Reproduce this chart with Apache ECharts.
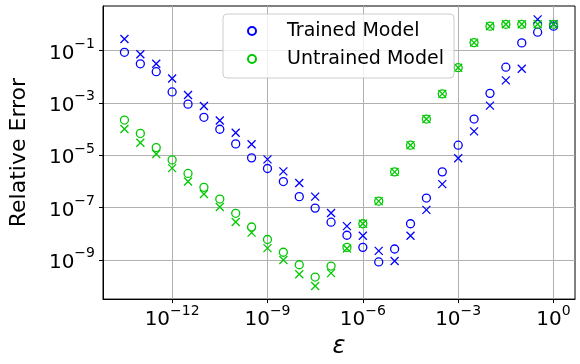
<!DOCTYPE html>
<html>
<head>
<meta charset="utf-8">
<script src="https://cdn.jsdelivr.net/npm/echarts@6/dist/echarts.min.js"></script>
<style>
html, body { margin: 0; padding: 0; background: #fff; }
#chart { width: 580px; height: 364px; }
</style>
</head>
<body>
<div id="chart"></div>
<script>
// epsilon values (half-decade steps)
const epsList = [3.16e-14, 1e-13, 3.16e-13, 1e-12, 3.16e-12, 1e-11, 3.16e-11, 1e-10, 3.16e-10, 1e-9,
  3.16e-9, 1e-8, 3.16e-8, 1e-7, 3.16e-7, 1e-6, 3.16e-6, 1e-5, 3.16e-5, 1e-4,
  3.16e-4, 1e-3, 3.16e-3, 1e-2, 3.16e-2, 1e-1, 3.16e-1, 1]

const trainedCircle = [8.5e-2, 3.1e-2, 1.55e-2, 2.6e-3, 8.9e-4, 2.8e-4, 9.8e-5, 2.7e-5, 7.9e-6, 3.1e-6,
  9.8e-7, 2.6e-7, 9.5e-8, 2.75e-8, 8.7e-9, 3.0e-9, 8.3e-10, 2.6e-9, 2.4e-8, 2.3e-7,
  2.3e-6, 2.4e-5, 2.4e-4, 2.3e-3, 2.3e-2, 1.95e-1, 5.0e-1, 8.5e-1]
const trainedCross = [2.75e-1, 7.2e-2, 3.1e-2, 8.5e-3, 2.0e-3, 7.6e-4, 2.1e-4, 7.2e-5, 2.6e-5, 6.9e-6,
  2.4e-6, 8.7e-7, 2.6e-7, 6.2e-8, 1.95e-8, 8.3e-9, 2.2e-9, 9.1e-10, 8.3e-9, 8.1e-8,
  7.8e-7, 7.6e-6, 8.1e-5, 7.8e-4, 7.2e-3, 2.0e-2, 1.55, 1.0]
const untrainedCircle = [2.2e-4, 6.8e-5, 1.95e-5, 6.6e-6, 2.0e-6, 5.9e-7, 2.1e-7, 6.0e-8, 1.8e-8, 6.0e-9,
  1.95e-9, 6.5e-10, 2.2e-10, 5.8e-10, 3.0e-9, 2.4e-8, 1.75e-7, 2.3e-6, 2.4e-5, 2.4e-4,
  2.2e-3, 2.2e-2, 2.0e-1, 8.5e-1, 1.0, 1.0, 1.0, 1.0]
const untrainedCross = [1.0e-4, 3.0e-5, 1.1e-5, 3.2e-6, 9.8e-7, 3.3e-7, 1.05e-7, 2.8e-8, 1.1e-8, 2.8e-9,
  9.8e-10, 2.8e-10, 1.0e-10, 3.1e-10, 2.7e-9, 2.4e-8, 1.75e-7, 2.3e-6, 2.4e-5, 2.4e-4,
  2.2e-3, 2.2e-2, 2.0e-1, 8.5e-1, 1.0, 1.0, 1.0, 1.0]

const xTicks = [1e-12, 1e-9, 1e-6, 1e-3, 1]
const yTicks = [1e-9, 1e-7, 1e-5, 1e-3, 1e-1]

const BLUE = '#0000ff'
const GREEN = '#00c800'
const CROSS = 'path://M0,0L10,10M10,0L0,10'
const FONT = 'DejaVu Sans'

const pairs = (ys) => epsList.map((x, i) => [x, ys[i]])

const powLabel = (v) => {
  const e = Math.round(Math.log10(v))
  return '{b|10}{s|' + String(e).replace('-', '\u2212') + '}'
}
const labelRich = {
  b: { fontSize: 20, fontFamily: FONT, color: '#000', verticalAlign: 'bottom', lineHeight: 26 },
  s: { fontSize: 14, fontFamily: FONT, color: '#000', verticalAlign: 'top', lineHeight: 26 },
}

const scatter = (name, ys, color, symbol) => ({
  name: name,
  type: 'scatter',
  data: pairs(ys),
  symbol: symbol,
  symbolSize: 8,
  itemStyle: { color: 'transparent', borderColor: color, borderWidth: 1.3, opacity: 1 },
  emphasis: { disabled: true },
})

const chart = echarts.init(document.getElementById('chart'))
chart.setOption({
  animation: false,
  grid: {
    left: 101, right: 5, top: 6, bottom: 61,
    show: true, borderColor: '#000', borderWidth: 1,
  },
  legend: {
    data: ['Trained Model', 'Untrained Model'],
    orient: 'vertical',
    left: 223, top: 14,
    padding: [6, 10, 8, 24],
    itemWidth: 8, itemHeight: 8, itemGap: 6,
    backgroundColor: 'rgba(255,255,255,0.8)',
    borderColor: '#cccccc', borderWidth: 1, borderRadius: 4,
    formatter: (name) => '{g|}' + name,
    textStyle: {
      fontSize: 19, fontFamily: FONT, color: '#000', lineHeight: 22,
      rich: { g: { width: 26 } },
    },
  },
  xAxis: {
    type: 'log', logBase: 10,
    min: Math.pow(10, -14.175), max: Math.pow(10, 0.675),
    name: 'ε', nameLocation: 'middle', nameGap: 34,
    nameTextStyle: { fontSize: 24, fontFamily: FONT, fontStyle: 'italic', color: '#000' },
    axisLine: { show: true, lineStyle: { color: '#000', width: 1 } },
    axisTick: { show: true, length: 4, lineStyle: { color: '#000' }, customValues: xTicks },
    axisLabel: { customValues: xTicks, margin: 5, formatter: powLabel, rich: labelRich },
    splitLine: { show: true, lineStyle: { color: '#b0b0b0', width: 1 } },
    minorTick: { show: false },
  },
  yAxis: {
    type: 'log', logBase: 10,
    min: Math.pow(10, -10.5), max: Math.pow(10, 0.7),
    name: 'Relative Error', nameLocation: 'middle', nameGap: 73,
    nameTextStyle: { fontSize: 22, fontFamily: FONT, color: '#000' },
    axisLine: { show: true, lineStyle: { color: '#000', width: 1 } },
    axisTick: { show: true, length: 4, lineStyle: { color: '#000' }, customValues: yTicks },
    axisLabel: { customValues: yTicks, margin: 8, formatter: powLabel, rich: labelRich },
    splitLine: { show: true, lineStyle: { color: '#b0b0b0', width: 1 } },
    minorTick: { show: false },
  },
  series: [
    scatter('Trained Model', trainedCircle, BLUE, 'circle'),
    scatter('Untrained Model', untrainedCircle, GREEN, 'circle'),
    scatter('Trained Model', trainedCross, BLUE, CROSS),
    scatter('Untrained Model', untrainedCross, GREEN, CROSS),
  ],
})
</script>
</body>
</html>
